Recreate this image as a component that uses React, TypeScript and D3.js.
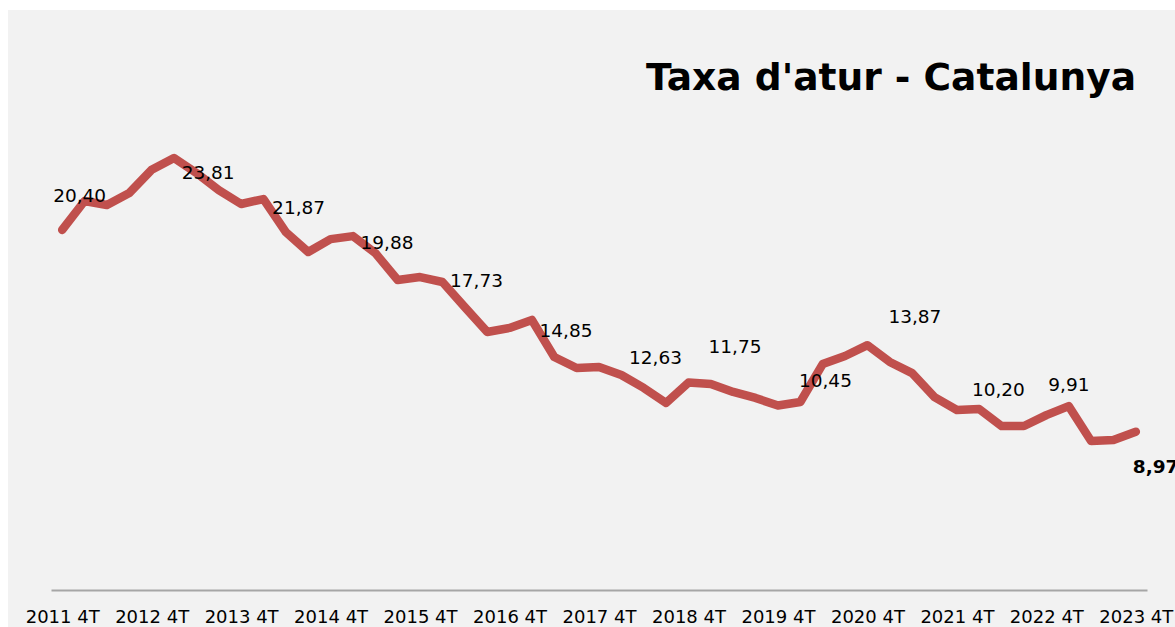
import React, { useEffect, useRef } from "react";
import * as d3 from "d3";

// quarterly unemployment rate, 2011 4T .. 2023 4T
const quarters = [
  "2011 4T",
  "2012 1T", "2012 2T", "2012 3T", "2012 4T",
  "2013 1T", "2013 2T", "2013 3T", "2013 4T",
  "2014 1T", "2014 2T", "2014 3T", "2014 4T",
  "2015 1T", "2015 2T", "2015 3T", "2015 4T",
  "2016 1T", "2016 2T", "2016 3T", "2016 4T",
  "2017 1T", "2017 2T", "2017 3T", "2017 4T",
  "2018 1T", "2018 2T", "2018 3T", "2018 4T",
  "2019 1T", "2019 2T", "2019 3T", "2019 4T",
  "2020 1T", "2020 2T", "2020 3T", "2020 4T",
  "2021 1T", "2021 2T", "2021 3T", "2021 4T",
  "2022 1T", "2022 2T", "2022 3T", "2022 4T",
  "2023 1T", "2023 2T", "2023 3T", "2023 4T",
];

const rates = [
  20.4,
  22.04, 21.81, 22.49, 23.81,
  24.48, 23.63, 22.66, 21.87,
  22.15, 20.28, 19.15, 19.88,
  20.05, 19.09, 17.56, 17.73,
  17.45, 16.03, 14.62, 14.85,
  15.3, 13.2, 12.58, 12.63,
  12.18, 11.45, 10.6, 11.75,
  11.67, 11.22, 10.88, 10.45,
  10.65, 12.8, 13.26, 13.87,
  12.92, 12.29, 10.93, 10.2,
  10.25, 9.29, 9.29, 9.91,
  10.42, 8.44, 8.5, 8.97,
];

// the 4T quarters get a tick label and a data label
const tickQuarters = quarters.filter(q => q.endsWith("4T"));

// label placement next to each 4T point [dx, dy]
const labelOffsets = [
  [-9, -28], [30, 9], [31, 10], [30, 9.5], [30, 9.5], [30, 9], [30, -3],
  [20, -30], [21, -19], [21, -22], [15, -14], [2, -24], [-3, 41],
];

const W = 1175, H = 627;
const FONT = "'DejaVu Sans', Verdana, sans-serif";

export default function App() {
  const ref = useRef<SVGSVGElement>(null);

  useEffect(() => {
    const svg = d3.select(ref.current);
    svg.selectAll("*").remove();

    svg.append("rect")
      .attr("x", 8).attr("y", 10)
      .attr("width", W - 8).attr("height", H - 10)
      .attr("fill", "#f2f2f2");

    const x = d3.scalePoint<string>()
      .domain(quarters)
      .range([51, 1147])
      .padding(0.5);

    const y = d3.scaleLinear().domain([0, 30]).range([590, 60.5]);

    // x axis
    const axis = svg.append("g")
      .attr("transform", "translate(0,590)")
      .call(d3.axisBottom(x).tickValues(tickQuarters).tickSize(0));
    axis.select(".domain")
      .attr("stroke", "#a6a6a6")
      .attr("stroke-width", 2);
    axis.selectAll("text")
      .attr("y", 33)
      .attr("dy", 0)
      .attr("fill", "#000")
      .attr("font-family", FONT)
      .attr("font-size", 18);

    const line = d3.line<number>()
      .x((d, i) => x(quarters[i])!)
      .y(d => y(d));

    svg.append("path")
      .datum(rates)
      .attr("d", line)
      .attr("fill", "none")
      .attr("stroke", "#c0504d")
      .attr("stroke-width", 8.5)
      .attr("stroke-linejoin", "round")
      .attr("stroke-linecap", "round");

    const fmt = (v: number) => v.toFixed(2).replace(".", ",");

    svg.append("g")
      .selectAll("text")
      .data(tickQuarters)
      .join("text")
      .attr("x", (q, i) => x(q)! + labelOffsets[i][0])
      .attr("y", (q, i) => y(rates[quarters.indexOf(q)]) + labelOffsets[i][1])
      .attr("font-family", FONT)
      .attr("font-size", 18.5)
      .attr("font-weight", (q, i) => (i === tickQuarters.length - 1 ? "bold" : "normal"))
      .attr("fill", "#000")
      .text(q => fmt(rates[quarters.indexOf(q)]));

    svg.append("text")
      .attr("x", 1136)
      .attr("y", 90)
      .attr("text-anchor", "end")
      .attr("font-family", FONT)
      .attr("font-size", 37.6)
      .attr("font-weight", "bold")
      .attr("fill", "#000")
      .text("Taxa d'atur - Catalunya");
  }, []);

  return (
    <svg
      ref={ref}
      width={W}
      height={H}
      style={{ position: "absolute", left: 0, top: 0, background: "#fff" }}
    />
  );
}
